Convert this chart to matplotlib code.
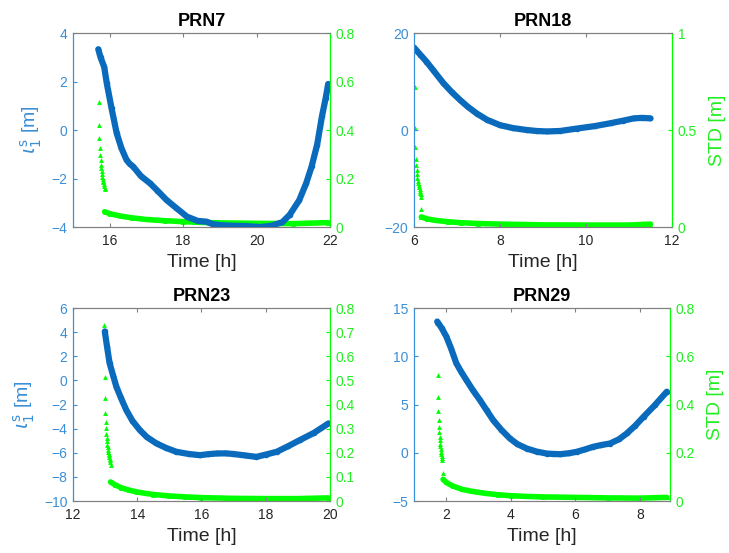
import numpy as np
import matplotlib.pyplot as plt

plt.rcParams['font.family'] = ['Liberation Sans', 'DejaVu Sans']
plt.rcParams['mathtext.fontset'] = 'dejavusans'

BLUE = '#0a6bbd'
BLUE_TXT = '#3a8fd6'
GREEN = '#00ff00'
GREEN_TXT = '#22ee22'
GRAY = '#262626'

# ---- PRN7 ----
t7 = [15.69, 15.75, 15.85, 15.92, 16.05, 16.19, 16.32, 16.46, 16.55, 16.64, 16.85, 17.1,
      17.3, 17.55, 17.8, 18.1, 18.4, 18.64, 18.8, 19.0, 19.36, 19.7, 20.1, 20.4, 20.7,
      20.9, 21.16, 21.35, 21.5, 21.65, 21.78, 21.88, 21.95]
iono7 = [3.33, 3.0, 2.6, 1.93, 0.9, -0.13, -0.75, -1.24, -1.4, -1.51, -1.9, -2.2,
         -2.5, -2.89, -3.2, -3.57, -3.75, -3.78, -3.88, -3.92, -3.95, -3.96, -4.0, -3.95, -3.8,
         -3.5, -2.9, -2.2, -1.5, -0.6, 0.56, 1.3, 1.9]
t7_init = [15.70, 15.70, 15.71, 15.72, 15.73, 15.74, 15.75, 15.76, 15.77, 15.78, 15.79,
           15.80, 15.81, 15.82, 15.83, 15.84, 15.85, 15.86, 15.87]
std7_init = [0.733, 0.517, 0.42, 0.367, 0.326, 0.297, 0.275, 0.257, 0.242, 0.229, 0.218,
             0.208, 0.199, 0.191, 0.184, 0.177, 0.170, 0.162, 0.155]
t7_conv = [15.86, 16.0, 16.3, 16.6, 17.0, 17.5, 18.0, 18.5, 19.0, 20.0, 21.0, 21.95]
std7_conv = [0.063, 0.055, 0.045, 0.038, 0.031, 0.026, 0.022, 0.019, 0.017, 0.015, 0.014, 0.018]

# ---- PRN18 ----
t18 = [6.0, 6.15, 6.29, 6.45, 6.68, 6.88, 7.07, 7.25, 7.46, 7.7, 8.0, 8.3, 8.62, 8.85,
       9.09, 9.4, 9.79, 10.2, 10.57, 10.85, 11.11, 11.3, 11.5]
iono18 = [17.0, 15.5, 14.1, 12.3, 9.7, 7.8, 6.2, 4.8, 3.4, 2.1, 1.0, 0.4, 0.0, -0.2,
          -0.3, -0.2, 0.3, 0.8, 1.4, 1.9, 2.4, 2.5, 2.4]
t18_init = [6.02, 6.02, 6.03, 6.04, 6.05, 6.06, 6.07, 6.08, 6.09, 6.10, 6.11, 6.12,
            6.13, 6.14, 6.15, 6.16, 6.17, 6.16]
std18_init = [0.724, 0.512, 0.414, 0.353, 0.319, 0.293, 0.272, 0.254, 0.239, 0.226, 0.214,
              0.204, 0.194, 0.185, 0.176, 0.168, 0.155, 0.095]
t18_conv = [6.17, 6.3, 6.5, 6.8, 7.1, 7.5, 8.0, 8.5, 9.0, 10.0, 11.0, 11.5]
std18_conv = [0.052, 0.042, 0.034, 0.027, 0.022, 0.018, 0.015, 0.013, 0.011, 0.01, 0.01, 0.015]

# ---- PRN23 ----
t23 = [12.99, 13.06, 13.14, 13.25, 13.35, 13.5, 13.66, 13.85, 14.08, 14.3, 14.6, 14.9,
       15.22, 15.6, 15.95, 16.2, 16.47, 16.75, 16.99, 17.35, 17.71, 18.0, 18.34, 18.7,
       19.06, 19.5, 19.95]
iono23 = [4.06, 2.8, 1.42, 0.4, -0.52, -1.5, -2.46, -3.35, -4.12, -4.7, -5.23, -5.6,
          -5.92, -6.1, -6.2, -6.12, -6.06, -6.05, -6.1, -6.22, -6.34, -6.15, -5.92, -5.45,
          -4.95, -4.35, -3.57]
t23_init = [12.98, 12.99, 13.0, 13.01, 13.02, 13.03, 13.04, 13.05, 13.06, 13.07, 13.08,
            13.09, 13.10, 13.11, 13.12, 13.13, 13.14, 13.15, 13.16, 13.17]
std23_init = [0.728, 0.516, 0.426, 0.366, 0.329, 0.301, 0.279, 0.262, 0.247, 0.234, 0.223,
              0.213, 0.204, 0.196, 0.189, 0.182, 0.175, 0.168, 0.160, 0.151]
t23_conv = [13.17, 13.3, 13.5, 13.75, 14.0, 14.5, 15.0, 15.5, 16.0, 17.0, 18.0, 19.0, 19.95]
std23_conv = [0.079, 0.068, 0.055, 0.045, 0.037, 0.027, 0.021, 0.017, 0.014, 0.011, 0.01, 0.01, 0.013]

# ---- PRN29 ----
t29 = [1.72, 1.86, 2.0, 2.15, 2.31, 2.46, 2.62, 2.82, 3.04, 3.25, 3.45, 3.7, 3.97,
       4.2, 4.49, 4.8, 5.11, 5.3, 5.52, 5.8, 6.04, 6.3, 6.55, 6.8, 7.07, 7.35, 7.59,
       7.85, 8.11, 8.45, 8.83]
iono29 = [13.6, 12.9, 12.05, 10.8, 9.28, 8.4, 7.55, 6.5, 5.47, 4.4, 3.39, 2.4, 1.48,
          0.9, 0.44, 0.12, -0.08, -0.12, -0.15, -0.05, 0.1, 0.35, 0.62, 0.8, 0.96, 1.4, 2.0,
          2.8, 3.73, 4.9, 6.33]
t29_init = [1.72, 1.73, 1.74, 1.75, 1.76, 1.77, 1.78, 1.79, 1.80, 1.81, 1.82, 1.83,
            1.84, 1.85, 1.86, 1.87, 1.88, 1.89]
std29_init = [0.738, 0.523, 0.433, 0.374, 0.336, 0.308, 0.285, 0.267, 0.252, 0.238, 0.226,
              0.215, 0.205, 0.196, 0.187, 0.178, 0.168, 0.118]
t29_conv = [1.9, 2.0, 2.2, 2.5, 2.8, 3.2, 3.6, 4.0, 4.5, 5.0, 6.0, 7.0, 8.0, 8.83]
std29_conv = [0.09, 0.077, 0.062, 0.048, 0.04, 0.032, 0.026, 0.022, 0.019, 0.017, 0.015, 0.013, 0.012, 0.015]

panels = [
    dict(title='PRN7', t=t7, iono=iono7, ti=t7_init, si=std7_init, tc=t7_conv, sc=std7_conv,
         xlim=(15, 22), xticks=[16, 18, 20, 22], ylim=(-4, 4), yticks=[-4, -2, 0, 2, 4],
         rlim=(0, 0.8), rticks=[0, 0.2, 0.4, 0.6, 0.8],
         pos=[0.1001, 0.5895, 0.3526, 0.3508], left_label=True),
    dict(title='PRN18', t=t18, iono=iono18, ti=t18_init, si=std18_init, tc=t18_conv, sc=std18_conv,
         xlim=(6, 12), xticks=[6, 8, 10, 12], ylim=(-20, 20), yticks=[-20, 0, 20],
         rlim=(0, 1), rticks=[0, 0.5, 1],
         pos=[0.5679, 0.5895, 0.3539, 0.3508], left_label=False),
    dict(title='PRN23', t=t23, iono=iono23, ti=t23_init, si=std23_init, tc=t23_conv, sc=std23_conv,
         xlim=(12, 20), xticks=[12, 14, 16, 18, 20], ylim=(-10, 6), yticks=list(range(-10, 7, 2)),
         rlim=(0, 0.8), rticks=[0, 0.1, 0.2, 0.3, 0.4, 0.5, 0.6, 0.7, 0.8],
         pos=[0.1001, 0.0940, 0.3526, 0.3490], left_label=True),
    dict(title='PRN29', t=t29, iono=iono29, ti=t29_init, si=std29_init, tc=t29_conv, sc=std29_conv,
         xlim=(1, 8.93), xticks=[2, 4, 6, 8], ylim=(-5, 15), yticks=[-5, 0, 5, 10, 15],
         rlim=(0, 0.8), rticks=[0, 0.2, 0.4, 0.6, 0.8],
         pos=[0.5679, 0.0940, 0.3512, 0.3490], left_label=False),
]

fig = plt.figure(figsize=(7.29, 5.53), dpi=100)

for p in panels:
    ax = fig.add_axes(p['pos'])
    ax2 = ax.twinx()
    ax.set_zorder(2)
    ax.patch.set_visible(False)

    ax.plot(p['t'], p['iono'], '-o', color=BLUE, lw=4.5, ms=4, mew=0,
            solid_capstyle='round')
    ax2.plot(p['ti'], p['si'], '^', color=GREEN, ms=3.5, mew=0, ls='none')
    ax2.plot(p['tc'], p['sc'], '-^', color=GREEN, lw=4, ms=3.5, mew=0,
             solid_capstyle='round')

    ax.set_xlim(p['xlim'])
    ax.set_ylim(p['ylim'])
    ax2.set_ylim(p['rlim'])
    ax.set_xticks(p['xticks'])
    ax.set_yticks(p['yticks'])
    ax2.set_yticks(p['rticks'])
    ax2.set_yticklabels(['{:g}'.format(v) for v in p['rticks']])

    for a in (ax, ax2):
        a.tick_params(direction='in', length=3, width=0.8, labelsize=10, pad=4)
        a.spines['top'].set_color('#808080')
        a.spines['bottom'].set_color('#808080')
        a.spines['left'].set_color(BLUE_TXT)
        a.spines['right'].set_color(GREEN)
    ax.tick_params(axis='x', colors='#808080', labelcolor=GRAY, top=True, pad=5)
    ax.tick_params(axis='y', colors=BLUE_TXT, labelcolor=BLUE_TXT)
    ax2.tick_params(axis='y', colors=GREEN, labelcolor=GREEN_TXT)

    ax.set_title(p['title'], fontsize=13, fontweight='bold', color='black', pad=5)
    ax.set_xlabel('Time [h]', fontsize=14, color=GRAY, labelpad=4)
    if p['left_label']:
        ax.set_ylabel(r'$\iota_1^{\mathrm{s}}$ [m]', fontsize=14, color=BLUE_TXT, labelpad=5)
    else:
        ax2.set_ylabel('STD [m]', fontsize=14, color=GREEN_TXT, labelpad=9)

fig.savefig('out.png', dpi=100)
